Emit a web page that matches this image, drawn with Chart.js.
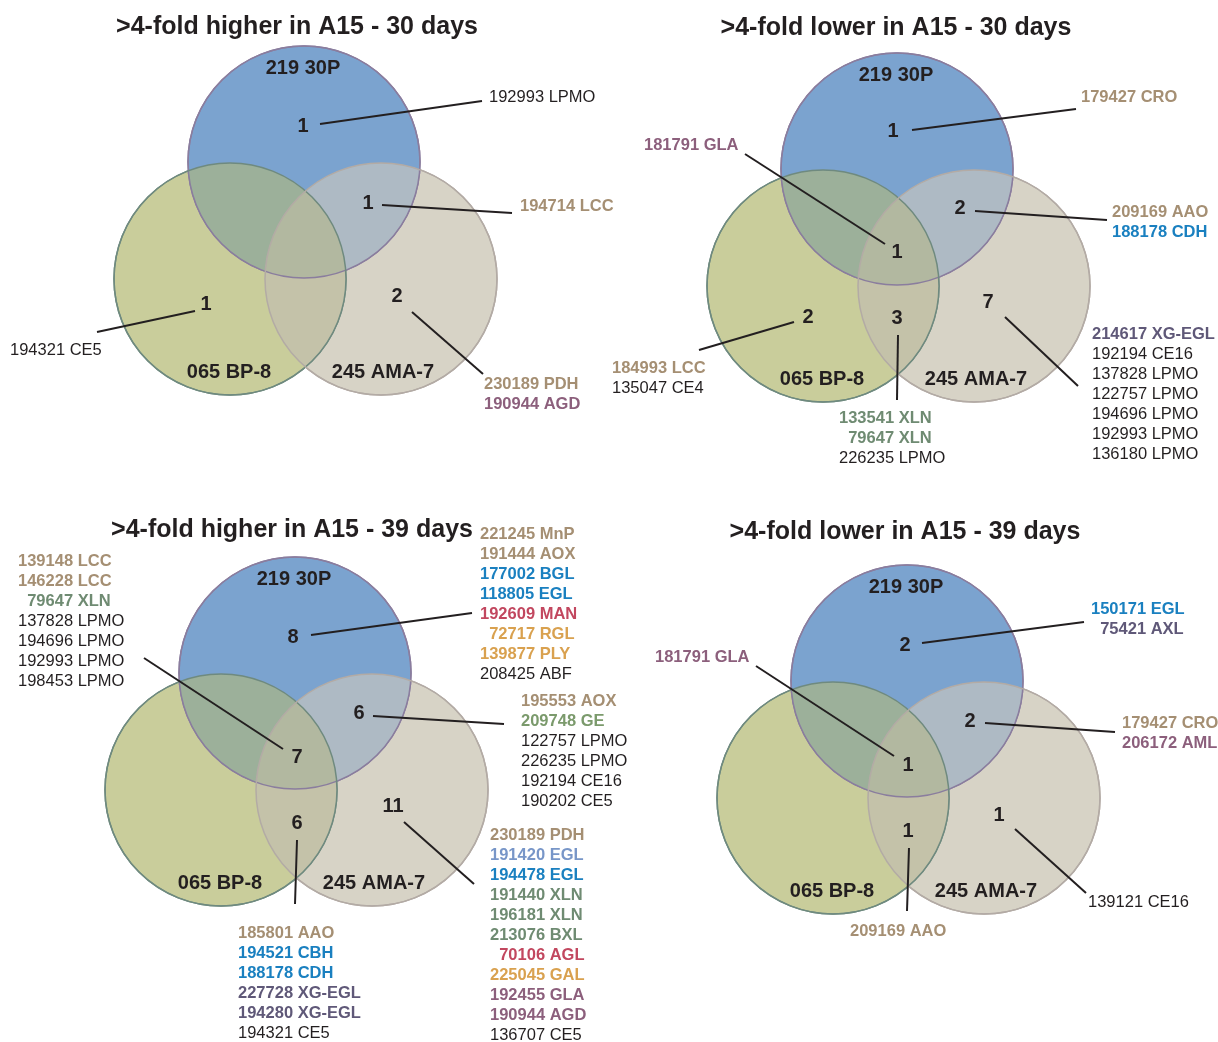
<!DOCTYPE html>
<html>
<head>
<meta charset="utf-8">
<script src="https://cdn.jsdelivr.net/npm/chart.js@4.4.0/dist/chart.umd.min.js"></script>
<style>
  html, body { margin: 0; padding: 0; background: #ffffff; }
  canvas { display: block; }
</style>
</head>
<body>
<canvas id="venn" width="1218" height="1042"></canvas>
<script>
// ---- Data ---------------------------------------------------------------
// The three strains compared in every diagram
const setNames = ['219 30P', '065 BP-8', '245 AMA-7'];

const panelTitles = [
  '>4-fold higher in A15 - 30 days',
  '>4-fold lower in A15 - 30 days',
  '>4-fold higher in A15 - 39 days',
  '>4-fold lower in A15 - 39 days'
];

// Region keys: A = 219 30P only, B = 065 BP-8 only, C = 245 AMA-7 only,
// AB / AC / BC = pairwise overlaps, ABC = shared by all three.
// Each entry: [protein ID + family, functional class]
const higher30 = {
  A:  [['192993 LPMO', 'other']],
  AC: [['194714 LCC', 'oxid']],
  B:  [['194321 CE5', 'other']],
  C:  [['230189 PDH', 'oxid'], ['190944 AGD', 'gal']]
};

const lower30 = {
  A:   [['179427 CRO', 'oxid']],
  ABC: [['181791 GLA', 'gal']],
  AC:  [['209169 AAO', 'oxid'], ['188178 CDH', 'cell']],
  B:   [['184993 LCC', 'oxid'], ['135047 CE4', 'other']],
  BC:  [['133541 XLN', 'xyl'], ['79647 XLN', 'xyl'], ['226235 LPMO', 'other']],
  C:   [['214617 XG-EGL', 'xg'], ['192194 CE16', 'other'], ['137828 LPMO', 'other'],
        ['122757 LPMO', 'other'], ['194696 LPMO', 'other'], ['192993 LPMO', 'other'],
        ['136180 LPMO', 'other']]
};

const higher39 = {
  A:   [['221245 MnP', 'oxid'], ['191444 AOX', 'oxid'], ['177002 BGL', 'cell'],
        ['118805 EGL', 'cell'], ['192609 MAN', 'mann'], ['72717 RGL', 'pect'],
        ['139877 PLY', 'pect'], ['208425 ABF', 'other']],
  ABC: [['139148 LCC', 'oxid'], ['146228 LCC', 'oxid'], ['79647 XLN', 'xyl'],
        ['137828 LPMO', 'other'], ['194696 LPMO', 'other'], ['192993 LPMO', 'other'],
        ['198453 LPMO', 'other']],
  AC:  [['195553 AOX', 'oxid'], ['209748 GE', 'ge'], ['122757 LPMO', 'other'],
        ['226235 LPMO', 'other'], ['192194 CE16', 'other'], ['190202 CE5', 'other']],
  BC:  [['185801 AAO', 'oxid'], ['194521 CBH', 'cell'], ['188178 CDH', 'cell'],
        ['227728 XG-EGL', 'xg'], ['194280 XG-EGL', 'xg'], ['194321 CE5', 'other']],
  C:   [['230189 PDH', 'oxid'], ['191420 EGL', 'cellAlt'], ['194478 EGL', 'cell'],
        ['191440 XLN', 'xyl'], ['196181 XLN', 'xyl'], ['213076 BXL', 'xyl'],
        ['70106 AGL', 'mann'], ['225045 GAL', 'pect'], ['192455 GLA', 'gal'],
        ['190944 AGD', 'gal'], ['136707 CE5', 'other']]
};

const lower39 = {
  A:   [['150171 EGL', 'cell'], ['75421 AXL', 'xg']],
  ABC: [['181791 GLA', 'gal']],
  AC:  [['179427 CRO', 'oxid'], ['206172 AML', 'gal']],
  BC:  [['209169 AAO', 'oxid']],
  C:   [['139121 CE16', 'other']]
};

const panelData = [higher30, lower30, higher39, lower39];

// ---- Styles -------------------------------------------------------------
const FONT = "'Liberation Sans', Arial, Helvetica, sans-serif";
const INK = '#231f20';
const CLASS_COLORS = {
  oxid: '#a58f73', cell: '#1a80c0', cellAlt: '#7896c8', xyl: '#6f8b72',
  ge: '#7b9a6c', mann: '#c2475f', pect: '#d9a14f', gal: '#8c5f7c',
  xg: '#5f5878', other: INK
};
const SET_FILLS = ['#7ba3cf', '#c9cd9b', '#d7d3c6'];
const SET_EDGES = ['#8a7d9e', '#6f8a7f', '#b3aba5'];
const OVERLAP_FILLS = { AB: '#9cb09a', AC: '#aebac4', BC: '#c4c2a9', ABC: '#b2b8a0' };

// ---- Layout (pixel positions of each diagram's pieces) ---------------------
const CIRCLE_R = 116;
const CIRCLE_OFFSETS = [[0, 0], [-74, 117], [77, 117]];
const SET_LABEL_OFFSETS = [[-1, -94], [-1, 93], [2, 93]];
const LINE_STEP = 20;

const LAYOUT = [
  { center: [304, 162], title: [297, 27], groups: {
      A:  { count: [303, 126], line: [[320, 124], [482, 101]], text: [489, 97] },
      AC: { count: [368, 203], line: [[382, 205], [512, 213]], text: [520, 206] },
      B:  { count: [206, 304], line: [[195, 311], [97, 332]],  text: [10, 350] },
      C:  { count: [397, 296], line: [[412, 312], [483, 374]], text: [484, 384] } } },
  { center: [897, 169], title: [896, 28], groups: {
      A:   { count: [893, 131], line: [[912, 130], [1076, 109]], text: [1081, 97] },
      ABC: { count: [897, 252], line: [[885, 244], [745, 154]],  text: [644, 145] },
      AC:  { count: [960, 208], line: [[975, 211], [1107, 220]], text: [1112, 212] },
      B:   { count: [808, 317], line: [[794, 322], [699, 350]],  text: [612, 368] },
      BC:  { count: [897, 318], line: [[898, 335], [897, 400]],  text: [839, 418] },
      C:   { count: [988, 302], line: [[1005, 317], [1078, 386]], text: [1092, 334] } } },
  { center: [295, 673], title: [292, 530], groups: {
      A:   { count: [293, 637], line: [[311, 635], [472, 613]], text: [480, 534] },
      ABC: { count: [297, 757], line: [[283, 749], [144, 658]], text: [18, 561] },
      AC:  { count: [359, 713], line: [[373, 716], [504, 724]], text: [521, 701] },
      BC:  { count: [297, 823], line: [[297, 840], [295, 904]], text: [238, 933] },
      C:   { count: [393, 806], line: [[404, 822], [474, 884]], text: [490, 835] } } },
  { center: [907, 681], title: [905, 532], groups: {
      A:   { count: [905, 645], line: [[922, 643], [1084, 622]], text: [1091, 609] },
      ABC: { count: [908, 765], line: [[894, 756], [756, 666]],  text: [655, 657] },
      AC:  { count: [970, 721], line: [[985, 723], [1115, 732]], text: [1122, 723] },
      BC:  { count: [908, 831], line: [[909, 848], [907, 911]],  text: [850, 931] },
      C:   { count: [999, 815], line: [[1015, 829], [1086, 893]], text: [1088, 902] } } }
];

// ---- Drawing helpers -----------------------------------------------------
function toPx(chart, p) {
  return [chart.scales.x.getPixelForValue(p[0]), chart.scales.y.getPixelForValue(p[1])];
}

function circlePath(ctx, c) {
  ctx.beginPath();
  ctx.arc(c.x, c.y, c.r, 0, Math.PI * 2);
}

function fillOverlap(ctx, circles, color) {
  ctx.save();
  for (let i = 0; i < circles.length - 1; i++) {
    circlePath(ctx, circles[i]);
    ctx.clip();
  }
  circlePath(ctx, circles[circles.length - 1]);
  ctx.fillStyle = color;
  ctx.fill();
  ctx.restore();
}

const vennPlugin = {
  id: 'vennAnnotations',
  afterDatasetsDraw(chart) {
    const ctx = chart.ctx;
    LAYOUT.forEach((panel, p) => {
      // circles as placed by the bubble scales
      const circles = [0, 1, 2].map(s => {
        const el = chart.getDatasetMeta(s).data[p];
        return { x: el.x, y: el.y, r: el.options.radius };
      });
      fillOverlap(ctx, [circles[0], circles[1]], OVERLAP_FILLS.AB);
      fillOverlap(ctx, [circles[0], circles[2]], OVERLAP_FILLS.AC);
      fillOverlap(ctx, [circles[1], circles[2]], OVERLAP_FILLS.BC);
      fillOverlap(ctx, circles, OVERLAP_FILLS.ABC);
      circles.forEach((c, s) => {
        ctx.save();
        circlePath(ctx, c);
        ctx.lineWidth = 1.5;
        ctx.strokeStyle = SET_EDGES[s];
        ctx.stroke();
        ctx.restore();
      });

      ctx.save();
      ctx.textBaseline = 'middle';
      ctx.fillStyle = INK;

      // title
      ctx.font = 'bold 25px ' + FONT;
      ctx.textAlign = 'center';
      const t = toPx(chart, panel.title);
      ctx.fillText(panelTitles[p], t[0], t[1]);

      // strain names inside the circles
      ctx.font = 'bold 20px ' + FONT;
      circles.forEach((c, s) => {
        ctx.fillText(setNames[s], c.x + SET_LABEL_OFFSETS[s][0], c.y + SET_LABEL_OFFSETS[s][1]);
      });

      // region counts, leader lines and gene lists
      const regions = panelData[p];
      Object.keys(regions).forEach(key => {
        const genes = regions[key];
        const g = panel.groups[key];
        if (!g || !genes.length) return;

        const cp = toPx(chart, g.count);
        ctx.font = 'bold 20px ' + FONT;
        ctx.textAlign = 'center';
        ctx.fillStyle = INK;
        ctx.fillText(String(genes.length), cp[0], cp[1]);

        const a = toPx(chart, g.line[0]);
        const b = toPx(chart, g.line[1]);
        ctx.beginPath();
        ctx.moveTo(a[0], a[1]);
        ctx.lineTo(b[0], b[1]);
        ctx.lineWidth = 2;
        ctx.strokeStyle = INK;
        ctx.stroke();

        const tp = toPx(chart, g.text);
        ctx.textAlign = 'left';
        genes.forEach(([label, cls], i) => {
          ctx.font = (cls === 'other' ? '' : 'bold ') + '16.5px ' + FONT;
          // protein IDs are right-aligned as a six-digit column
          const id = label.split(' ')[0];
          const pad = Math.max(0, 6 - id.length) * ctx.measureText('0').width;
          ctx.fillStyle = CLASS_COLORS[cls];
          ctx.fillText(label, tp[0] + pad, tp[1] + i * LINE_STEP);
        });
      });
      ctx.restore();
    });
  }
};

// ---- Chart ---------------------------------------------------------------
new Chart(document.getElementById('venn'), {
  type: 'bubble',
  data: {
    datasets: setNames.map((name, s) => ({
      label: name,
      data: LAYOUT.map(pl => ({
        x: pl.center[0] + CIRCLE_OFFSETS[s][0],
        y: pl.center[1] + CIRCLE_OFFSETS[s][1],
        r: CIRCLE_R
      })),
      backgroundColor: SET_FILLS[s],
      borderColor: SET_EDGES[s],
      borderWidth: 1.5,
      hoverRadius: 0,
      clip: false
    }))
  },
  options: {
    responsive: false,
    animation: false,
    events: [],
    layout: { padding: 0, autoPadding: false },
    plugins: { legend: { display: false }, tooltip: { enabled: false } },
    scales: {
      x: { type: 'linear', min: 0, max: 1218, display: false },
      y: { type: 'linear', min: 0, max: 1042, reverse: true, display: false }
    }
  },
  plugins: [vennPlugin]
});
</script>
</body>
</html>
